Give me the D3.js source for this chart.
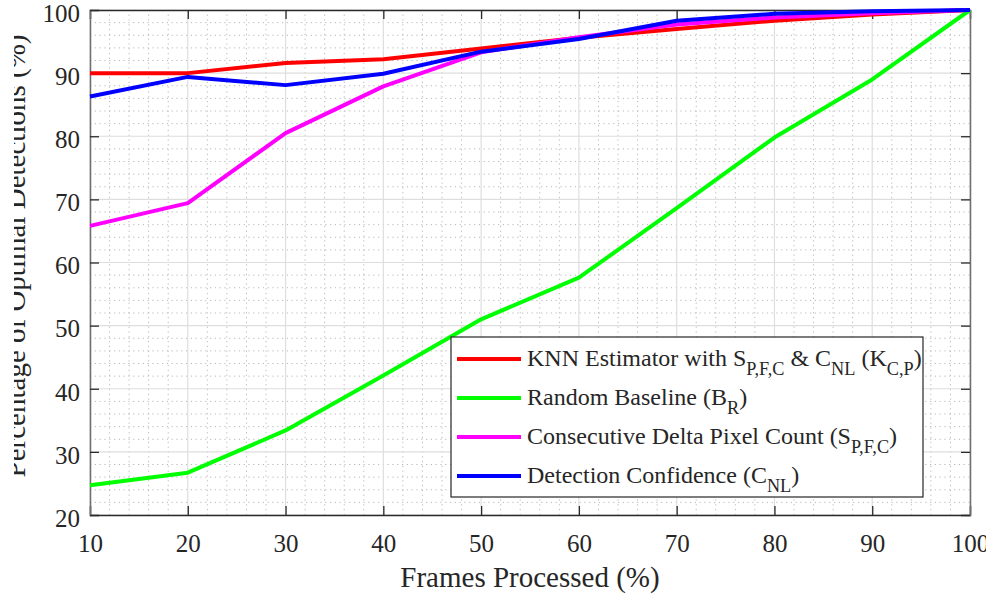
<!DOCTYPE html>
<html>
<head>
<meta charset="utf-8">
<script src="https://cdn.jsdelivr.net/npm/d3@7"></script>
<style>
  html, body { margin: 0; padding: 0; background: #fff; }
  svg { display: block; }
  text { font-family: "Liberation Serif", "Times New Roman", serif; fill: #262626; }
</style>
</head>
<body>
<svg id="chart" width="994" height="598"></svg>
<script>
// Frames processed (%) on the x axis
const frames = [10, 20, 30, 40, 50, 60, 70, 80, 90, 100];

// Percentage of optimal detections (%) per method
const knnEstimator   = [90.0, 90.0, 91.6, 92.2, 93.9, 95.6, 97.0, 98.3, 99.3, 100];
const randomBaseline = [24.7, 26.7, 33.4, 42.1, 51.0, 57.6, 68.6, 79.8, 89.0, 100];
const deltaPixel     = [65.8, 69.4, 80.5, 87.9, 93.3, 95.7, 97.7, 98.8, 99.5, 100];
const detectionConf  = [86.3, 89.4, 88.1, 89.9, 93.4, 95.4, 98.3, 99.4, 99.8, 100];

// Legend labels; "_{...}" marks a subscript
const seriesNames = [
  "KNN Estimator with S_{P,F,C} & C_{NL} (K_{C,P})",
  "Random Baseline (B_{R})",
  "Consecutive Delta Pixel Count (S_{P,F,C})",
  "Detection Confidence (C_{NL})"
];
const seriesColors = ["#ff0000", "#00ff00", "#ff00ff", "#0000ff"];

const xTicks = [10, 20, 30, 40, 50, 60, 70, 80, 90, 100];
const yTicks = [20, 30, 40, 50, 60, 70, 80, 90, 100];

const xLabel = "Frames Processed (%)";
const yLabel = "Percentage of Optimal Detections (%)";

const series = [knnEstimator, randomBaseline, deltaPixel, detectionConf].map((vals, i) => ({
  name: seriesNames[i],
  color: seriesColors[i],
  points: frames.map((f, j) => ({ x: f, y: vals[j] }))
}));

const svg = d3.select("#chart");
const W = 994, H = 598;
const m = { left: 90, top: 10, right: 24, bottom: 83 };
const iw = W - m.left - m.right, ih = H - m.top - m.bottom;

// The figure is trimmed at both sides
svg.append("defs").append("clipPath").attr("id", "figClip")
  .append("rect").attr("x", 14).attr("y", 0).attr("width", 972).attr("height", H);
const fig = svg.append("g").attr("clip-path", "url(#figClip)");

const x = d3.scaleLinear().domain([10, 100]).range([m.left, m.left + iw]);
const y = d3.scaleLinear().domain([20, 100]).range([m.top + ih, m.top]);

// Minor grid (every 2 units), dotted
const minorX = d3.range(12, 100, 2).filter(v => v % 10 !== 0);
const minorY = d3.range(22, 100, 2).filter(v => v % 10 !== 0);
const grid = fig.append("g");
grid.selectAll("line.mx").data(minorX).join("line")
  .attr("x1", d => x(d)).attr("x2", d => x(d))
  .attr("y1", y(20)).attr("y2", y(100))
  .attr("stroke", "#b8b8b8").attr("stroke-width", 1).attr("stroke-dasharray", "1.2,3.6");
grid.selectAll("line.my").data(minorY).join("line")
  .attr("x1", x(10)).attr("x2", x(100))
  .attr("y1", d => y(d)).attr("y2", d => y(d))
  .attr("stroke", "#b8b8b8").attr("stroke-width", 1).attr("stroke-dasharray", "1.2,3.6");

// Major grid
grid.selectAll("line.gx").data(xTicks).join("line")
  .attr("x1", d => x(d)).attr("x2", d => x(d))
  .attr("y1", y(20)).attr("y2", y(100))
  .attr("stroke", "#dedede").attr("stroke-width", 1.2);
grid.selectAll("line.gy").data(yTicks).join("line")
  .attr("x1", x(10)).attr("x2", x(100))
  .attr("y1", d => y(d)).attr("y2", d => y(d))
  .attr("stroke", "#dedede").attr("stroke-width", 1.2);

// Axes with inward ticks on all four sides
const tickLen = 9;
const axB = fig.append("g").attr("transform", `translate(0,${y(20)})`)
  .call(d3.axisBottom(x).tickValues(xTicks).tickSize(-tickLen).tickPadding(18).tickFormat(d3.format("d")));
const axT = fig.append("g").attr("transform", `translate(0,${y(100)})`)
  .call(d3.axisTop(x).tickValues(xTicks).tickSize(-tickLen).tickFormat(""));
const axL = fig.append("g").attr("transform", `translate(${x(10)},0)`)
  .call(d3.axisLeft(y).tickValues(yTicks).tickSize(-tickLen).tickPadding(10).tickFormat(d3.format("d")));
const axR = fig.append("g").attr("transform", `translate(${x(100)},0)`)
  .call(d3.axisRight(y).tickValues(yTicks).tickSize(-tickLen).tickFormat(""));

[axB, axT].forEach(a => {
  a.select(".domain").attr("stroke", "#2a2a2a").attr("stroke-width", 1.3);
  a.selectAll(".tick line").attr("stroke", "#2a2a2a").attr("stroke-width", 1.3);
});
[axL, axR].forEach(a => {
  a.select(".domain").attr("stroke", "#6e6e6e").attr("stroke-width", 1.5);
  a.selectAll(".tick line").attr("stroke", "#2a2a2a").attr("stroke-width", 1.3);
});
fig.selectAll(".tick text")
  .attr("font-family", "'Liberation Serif', 'Times New Roman', serif")
  .attr("font-size", 25).attr("fill", "#262626");
axL.selectAll(".tick text").attr("dy", "0.45em");
axB.selectAll(".tick text").attr("dy", "0.76em");

// Series lines
const line = d3.line().x(d => x(d.x)).y(d => y(d.y));
fig.append("g").selectAll("path").data(series).join("path")
  .attr("d", d => line(d.points))
  .attr("fill", "none")
  .attr("stroke", d => d.color)
  .attr("stroke-width", 4)
  .attr("stroke-linejoin", "round");

// Axis titles
fig.append("text")
  .attr("x", (x(10) + x(100)) / 2).attr("y", 587)
  .attr("text-anchor", "middle").attr("font-size", 29)
  .text(xLabel);
fig.append("text")
  .attr("transform", `translate(25,256) rotate(-90)`)
  .attr("text-anchor", "middle").attr("font-size", 29)
  .text(yLabel);

// Writes a label with "_{...}" subscripts into a text element
function richText(sel, label, size) {
  const parts = label.split(/(_\{[^}]*\})/).filter(s => s.length);
  let shifted = false;
  parts.forEach(p => {
    const sub = p.startsWith("_{");
    const t = sel.append("tspan").text(sub ? p.slice(2, -1) : p);
    if (sub) {
      t.attr("font-size", size * 0.76).attr("dy", 9);
      shifted = true;
    } else if (shifted) {
      t.attr("dy", -9);
      shifted = false;
    }
  });
}

// Legend
const lg = fig.append("g");
const lgX = 451, lgY = 337, lgW = 472, lgH = 160, rowH = 39;
lg.append("rect").attr("x", lgX).attr("y", lgY).attr("width", lgW).attr("height", lgH)
  .attr("fill", "#fff").attr("stroke", "#262626").attr("stroke-width", 1.2);
const rows = lg.selectAll("g.row").data(series).join("g")
  .attr("transform", (d, i) => `translate(${lgX},${lgY + 22 + i * rowH})`);
rows.append("line").attr("x1", 6).attr("x2", 70).attr("y1", 0).attr("y2", 0)
  .attr("stroke", d => d.color).attr("stroke-width", 4);
rows.append("text").attr("x", 76).attr("y", 7).attr("font-size", 24)
  .each(function(d) { richText(d3.select(this), d.name, 24); });
</script>
</body>
</html>
